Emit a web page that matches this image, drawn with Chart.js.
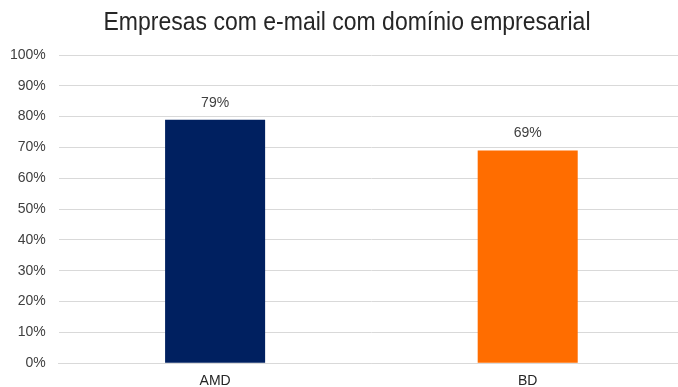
<!DOCTYPE html>
<html>
<head>
<meta charset="utf-8">
<script src="https://cdn.jsdelivr.net/npm/chart.js@4"></script>
<style>
  html, body { margin: 0; padding: 0; background: #fff; overflow: hidden; }
  #wrap { width: 684px; height: 387px; }
</style>
</head>
<body>
<div id="wrap"><canvas id="chart"></canvas></div>
<script>
// data
const categories = ['AMD', 'BD'];
const values = [79, 69];
const barColors = ['#002060', '#FF6D00'];
const titleText = 'Empresas com e-mail com domínio empresarial';

const FONT = '"Liberation Sans", Arial, sans-serif';

// title, drawn a little taller than the stock one
const titlePlugin = {
    id: 'titlePlugin',
    afterDraw(chart) {
        const ctx = chart.ctx;
        ctx.save();
        ctx.font = '23px ' + FONT;
        ctx.fillStyle = '#262626';
        ctx.textAlign = 'center';
        ctx.textBaseline = 'alphabetic';
        ctx.translate(347, 30);
        ctx.scale(1, 1.12);
        ctx.fillText(titleText, 0, 0);
        ctx.restore();
    }
};

// value labels above each bar
const valueLabels = {
    id: 'valueLabels',
    afterDatasetsDraw(chart) {
        const ctx = chart.ctx;
        const meta = chart.getDatasetMeta(0);
        ctx.save();
        ctx.font = '14px ' + FONT;
        ctx.fillStyle = '#404040';
        ctx.textAlign = 'center';
        ctx.textBaseline = 'bottom';
        meta.data.forEach((bar, i) => {
            ctx.fillText(values[i] + '%', bar.x, bar.y - 10);
        });
        ctx.restore();
    }
};

new Chart(document.getElementById('chart'), {
    type: 'bar',
    data: {
        labels: categories,
        datasets: [{
            data: values,
            backgroundColor: barColors,
            borderWidth: 0,
            categoryPercentage: 0.64,
            barPercentage: 0.5
        }]
    },
    options: {
        responsive: true,
        maintainAspectRatio: false,
        animation: false,
        layout: { padding: { left: -3, right: 0, top: 55, bottom: -5 } },
        plugins: {
            legend: { display: false },
            tooltip: { enabled: false },
            title: { display: false }
        },
        scales: {
            x: {
                grid: { display: false },
                border: { color: '#d9d9d9' },
                ticks: {
                    color: '#262626',
                    font: { family: FONT, size: 14 },
                    padding: 2
                }
            },
            y: {
                min: 0,
                max: 100,
                ticks: {
                    stepSize: 10,
                    color: '#404040',
                    font: { family: FONT, size: 14 },
                    padding: 13,
                    callback: v => v + '%'
                },
                grid: { color: '#d9d9d9', drawTicks: false },
                border: { display: false }
            }
        }
    },
    plugins: [valueLabels, titlePlugin]
});
</script>
</body>
</html>
